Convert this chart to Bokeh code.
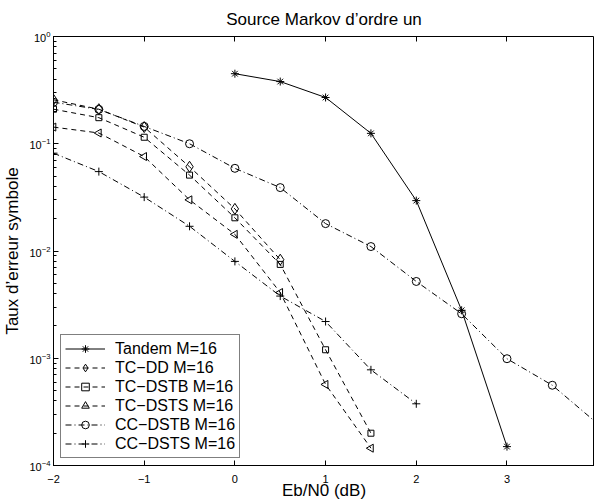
import numpy as np
from bokeh.plotting import figure
from bokeh.models import (LinearAxis, LogAxis, FixedTicker, LogTicker, Legend, LegendItem, Range1d,
                          CustomJSTickFormatter)
from bokeh.embed import file_html
from bokeh.resources import INLINE

# ---- data ----
x_tandem = [0, 0.5, 1, 1.5, 2, 2.5, 3]
y_tandem = [0.45, 0.38, 0.27, 0.125, 0.0295, 0.0028, 1.5e-4]

x_tcdd = [-2, -1.5, -1, -0.5, 0, 0.5]
y_tcdd = [0.257, 0.21, 0.143, 0.061, 0.0247, 0.0083]

x_tcdstb = [-2, -1.5, -1, -0.5, 0, 0.5, 1, 1.5]
y_tcdstb = [0.21, 0.175, 0.115, 0.051, 0.0204, 0.0075, 0.0012, 2.0e-4]

x_tcdsts = [-2, -1.5, -1, -0.5, 0, 0.5, 1, 1.5]
y_tcdsts = [0.143, 0.126, 0.076, 0.030, 0.0143, 0.0041, 5.7e-4, 1.45e-4]

x_ccdstb = [-2, -1.5, -1, -0.5, 0, 0.5, 1, 1.5, 2, 2.5, 3, 3.5, 4]
y_ccdstb = [0.244, 0.209, 0.145, 0.1, 0.059, 0.039, 0.018, 0.011, 0.0052, 0.0026, 9.9e-4, 5.6e-4, 2.45e-4]

x_ccdsts = [-2, -1.5, -1, -0.5, 0, 0.5, 1, 1.5, 2]
y_ccdsts = [0.0817, 0.055, 0.0318, 0.017, 0.008, 0.0038, 0.0022, 7.8e-4, 3.76e-4]

labels = ["Tandem M=16", "TC\u2212DD M=16", "TC\u2212DSTB M=16", "TC\u2212DSTS M=16",
          "CC\u2212DSTB M=16", "CC\u2212DSTS M=16"]

x_ticks = [-2, -1, 0, 1, 2, 3, 4]
x_tick_labels = {-2: "\u22122", -1: "\u22121", 0: "0", 1: "1", 2: "2", 3: "3", 4: "4"}

title_text = "Source Markov d\u2019ordre un"
xlabel = "Eb/N0 (dB)"
ylabel = "Taux d\u2019erreur symbole"

FONT = "Liberation Sans"

p = figure(frame_width=541, frame_height=429, output_backend="svg", toolbar_location=None,
           y_axis_type="log", x_range=Range1d(-2, 3.965), y_range=Range1d(1e-4, 1),
           x_axis_location=None, y_axis_location=None,
           min_border_left=49, min_border_right=0, min_border_top=0, min_border_bottom=0)
p.title.text = title_text
p.title.align = "center"
p.title.text_font = FONT
p.title.text_font_size = "17px"
p.title.text_font_style = "normal"
p.title.text_color = "black"
p.title.standoff = 15
p.xgrid.visible = False
p.ygrid.visible = False
p.outline_line_color = "black"
p.outline_line_width = 1
p.background_fill_color = "white"
p.border_fill_color = "white"

blank = CustomJSTickFormatter(code="return ''")

def style_axis(ax, labels_on=True):
    ax.major_tick_in = 5
    ax.major_tick_out = 0
    ax.minor_tick_in = 3
    ax.minor_tick_out = 0
    ax.axis_line_color = "black"
    ax.major_tick_line_color = "black"
    ax.minor_tick_line_color = "black"
    ax.major_label_text_font = FONT
    ax.major_label_text_font_size = "11px" if labels_on else "1px"
    ax.major_label_text_color = "black"
    ax.major_label_text_line_height = 1.0
    if not labels_on:
        ax.major_label_text_alpha = 0
        ax.formatter = blank
        ax.major_label_standoff = 0
        ax.axis_line_color = None
    ax.axis_label_text_font = FONT
    ax.axis_label_text_font_size = "17px"
    ax.axis_label_text_font_style = "normal"
    ax.axis_label_text_color = "black"
    ax.axis_label_text_line_height = 1.0

# bottom axis
xb = LinearAxis(ticker=FixedTicker(ticks=x_ticks), axis_label=xlabel)
style_axis(xb)
xb.major_label_overrides = x_tick_labels
xb.major_label_standoff = 9
xb.axis_label_standoff = -5
p.add_layout(xb, "below")

# top axis (ticks only)
xt = LinearAxis(ticker=FixedTicker(ticks=x_ticks))
style_axis(xt, labels_on=False)
p.add_layout(xt, "above")

# left axis
yl = LogAxis(ticker=LogTicker(num_minor_ticks=10), axis_label=ylabel)
style_axis(yl)
yl.major_label_standoff = 3
yl.axis_label_standoff = 4
p.add_layout(yl, "left")

DASH = "5 4"
DASHDOT = "6 3 1 3"

items = []
def series(xs, ys, dash, marker, label, size=8, angle=0.0):
    l = p.line(xs, ys, line_color="black", line_width=1, line_dash=dash)
    s = p.scatter(xs, ys, marker=marker, size=size, angle=angle,
                  line_color="black", fill_color=None, line_width=1)
    items.append(LegendItem(label=label, renderers=[l, s]))

series(x_tandem, y_tandem, "solid", "asterisk", labels[0], size=8)
series(x_tcdd, y_tcdd, DASH, "diamond", labels[1], size=11)
series(x_tcdstb, y_tcdstb, DASH, "square", labels[2], size=6)
series(x_tcdsts, y_tcdsts, DASH, "triangle", labels[3], size=8, angle=np.pi / 2)
series(x_ccdstb, y_ccdstb, DASHDOT, "circle", labels[4], size=8)
series(x_ccdsts, y_ccdsts, DASHDOT, "cross", labels[5], size=8)

legend = Legend(items=items, location="bottom_left")
legend.label_text_font = FONT
legend.label_text_font_size = "16px"
legend.label_text_color = "black"
legend.label_height = 19
legend.glyph_height = 19
legend.glyph_width = 40
legend.label_standoff = 10
legend.spacing = 0
legend.padding = 4
legend.margin = 7
legend.border_line_color = "black"
legend.border_line_width = 1
legend.background_fill_color = "white"
legend.background_fill_alpha = 1.0
p.add_layout(legend, "center")

open("out.html", "w").write(file_html(p, INLINE))
